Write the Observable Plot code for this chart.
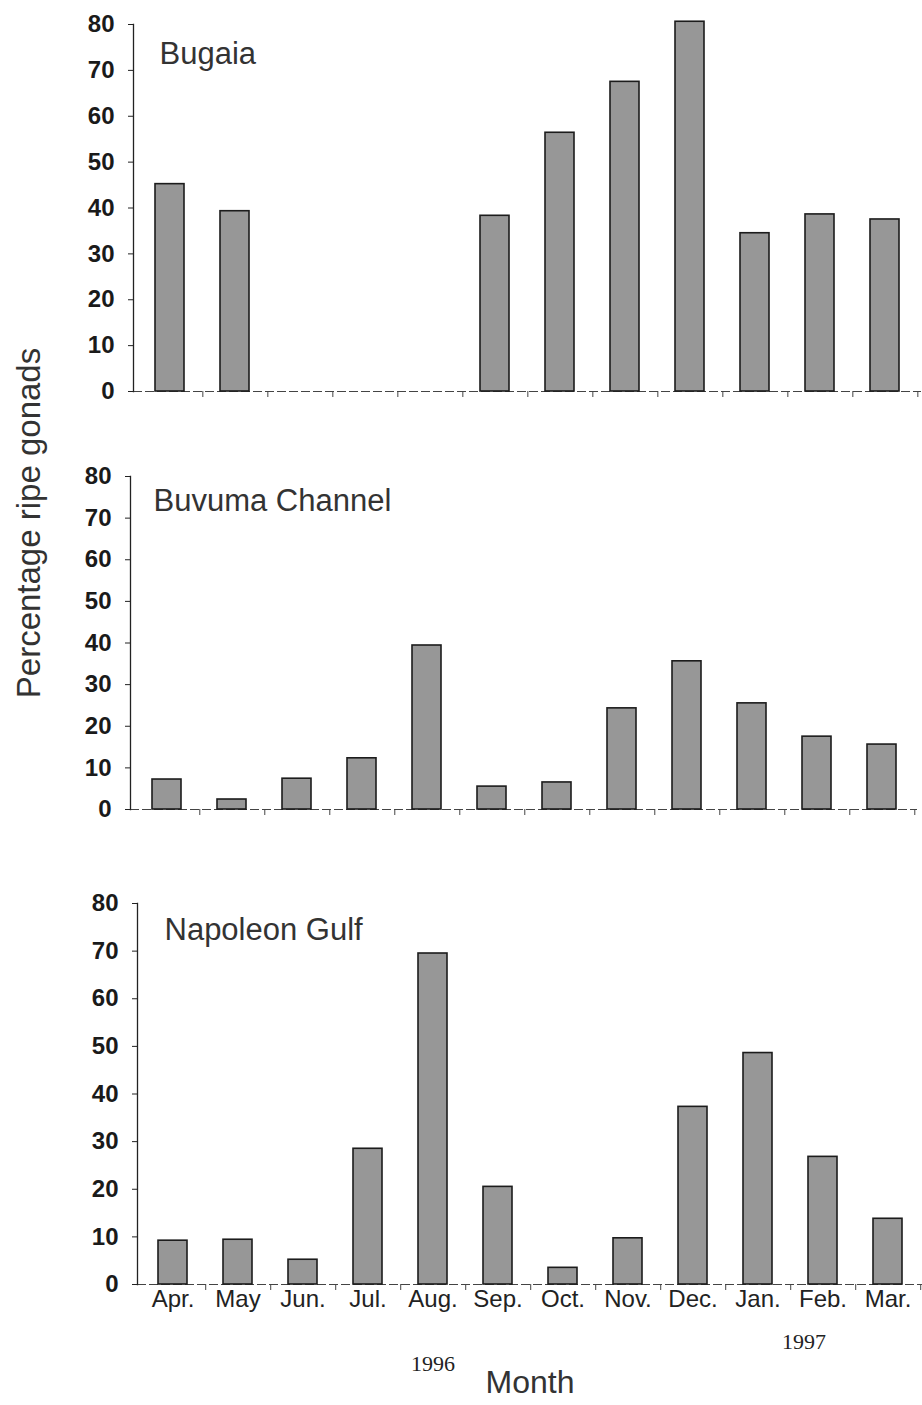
<!DOCTYPE html>
<html><head><meta charset="utf-8">
<script src="https://cdn.jsdelivr.net/npm/d3@7"></script>
<script src="https://cdn.jsdelivr.net/npm/@observablehq/plot@0.6"></script>
<style>
body{margin:0;background:#fff;}
#wrap{position:relative;width:922px;height:1405px;font-family:"Liberation Sans",Arial,sans-serif;}
#wrap > div.panel{position:absolute;left:0;}
#ytitle{position:absolute;left:28px;top:523px;transform:translate(-50%,-50%) rotate(-90deg);white-space:nowrap;font-size:33px;color:#333;line-height:1;}
</style></head><body><div id="wrap"></div>
<script>
const months = ["Apr.","May","Jun.","Jul.","Aug.","Sep.","Oct.","Nov.","Dec.","Jan.","Feb.","Mar."];
const bugaia   = [45.2, 39.3, null, null, null, 38.3, 56.4, 67.5, 80.6, 34.5, 38.6, 37.5];
const buvuma   = [7.2, 2.4, 7.4, 12.3, 39.4, 5.5, 6.5, 24.3, 35.6, 25.5, 17.5, 15.6];
const napoleon = [9.2, 9.4, 5.2, 28.5, 69.5, 20.5, 3.5, 9.7, 37.3, 48.6, 26.8, 13.8];
const panelNames = ["Bugaia", "Buvuma Channel", "Napoleon Gulf"];
const yTicks = [0, 10, 20, 30, 40, 50, 60, 70, 80];
const yearLabels = [{month: "Aug.", label: "1996"}, {month: "Jan.", label: "1997"}];
const yTitle = "Percentage ripe gonads";
const xTitle = "Month";

const W = 922;
const layouts = [
  {values: bugaia,   top: 0,   height: 415, mt: 24, mb: 24,  ml: 133, mr: 1, tdx: 26, tdy: 17},
  {values: buvuma,   top: 420, height: 410, mt: 56, mb: 21,  ml: 130, mr: 5, tdx: 23, tdy: 12},
  {values: napoleon, top: 840, height: 565, mt: 63, mb: 121, ml: 137, mr: 0, tdx: 27, tdy: 14}
];

const wrap = document.getElementById("wrap");

layouts.forEach((L, i) => {
  const data = months.map((m, k) => ({month: m, value: L.values[k]})).filter(d => d.value != null);
  const step = (W - L.ml - L.mr) / months.length;
  const marks = [
    Plot.ruleY([0], {stroke: "#444", strokeWidth: 1.2, strokeDasharray: "9,3"}),
    Plot.axisX({ticks: months, tickSize: 6, tickFormat: () => "", label: null, dx: step / 2, stroke: "#444", strokeWidth: 1}),
    Plot.barY(data, {x: "month", y: "value", fill: "#979797", stroke: "#1c1c1c", strokeWidth: 1.6}),
    Plot.frame({anchor: "left", stroke: "#222", strokeWidth: 1.3}),
    Plot.axisY({ticks: yTicks, tickSize: 5, tickPadding: 14, label: null, fontSize: 24, fontWeight: "bold", fill: "#1a1a1a", stroke: "#222"}),
    Plot.text([panelNames[i]], {frameAnchor: "top-left", textAnchor: "start", lineAnchor: "top", dx: L.tdx, dy: L.tdy, fontSize: 31, fill: "#333"})
  ];
  if (i === 2) {
    marks.push(Plot.axisX({tickSize: 0, tickPadding: 5, label: null, fontSize: 24, fill: "#222"}));
    marks.push(Plot.text(yearLabels.filter(d => d.label === "1996"), {x: "month", text: "label", frameAnchor: "bottom", dy: 86, fontSize: 22, fontFamily: "Liberation Serif, Times New Roman, serif", fill: "#222"}));
    marks.push(Plot.text(yearLabels.filter(d => d.label === "1997"), {x: "month", text: "label", frameAnchor: "bottom", dx: 46, dy: 64, fontSize: 22, fontFamily: "Liberation Serif, Times New Roman, serif", fill: "#222"}));
    marks.push(Plot.text([xTitle], {frameAnchor: "bottom", dy: 108, fontSize: 32, fill: "#333"}));
  }
  const chart = Plot.plot({
    width: W, height: L.height,
    marginTop: L.mt, marginBottom: L.mb, marginLeft: L.ml, marginRight: L.mr,
    style: {fontFamily: "'Liberation Sans', Arial, sans-serif", fontSize: "24px", background: "white", overflow: "visible"},
    x: {domain: months, paddingInner: 0.56, paddingOuter: 0.28, axis: null},
    y: {domain: [0, 80], axis: null},
    marks
  });
  const holder = document.createElement("div");
  holder.className = "panel";
  holder.style.top = L.top + "px";
  holder.appendChild(chart);
  wrap.appendChild(holder);
});

const yt = document.createElement("div");
yt.id = "ytitle";
yt.textContent = yTitle;
wrap.appendChild(yt);
</script></body></html>
